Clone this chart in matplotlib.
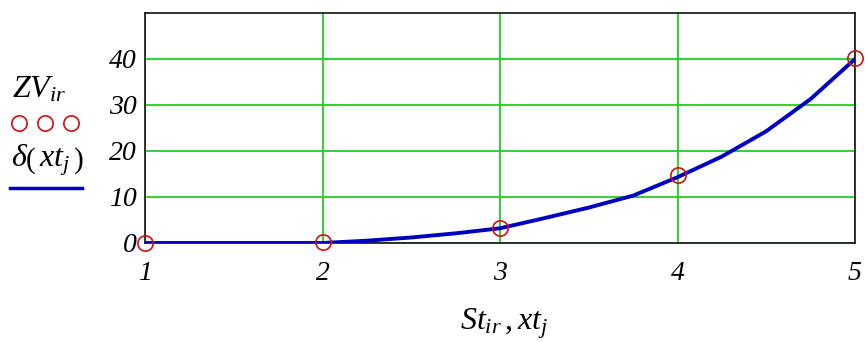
import matplotlib
matplotlib.use("Agg")
import matplotlib.pyplot as plt

plt.rcParams['mathtext.fontset'] = 'custom'
plt.rcParams['mathtext.rm'] = 'Liberation Serif'
plt.rcParams['mathtext.it'] = 'Liberation Serif:italic'
plt.rcParams['font.family'] = 'Liberation Serif'

# measured points ZV_ir at St_ir
st = [1, 2, 3, 4, 5]
zv = [0.0, 0.2, 3.2, 14.7, 40.3]

# fitted curve delta(xt_j)
xt = [1, 1.5, 2, 2.25, 2.5, 2.75, 3, 3.25, 3.5, 3.75, 4, 4.25, 4.5, 4.75, 5]
delta = [0, 0, 0, 0.5, 1.2, 2.1, 3.2, 5.4, 7.7, 10.3, 14.3, 18.8, 24.3, 31.3, 40.0]

xticks = [1, 2, 3, 4, 5]
yticks = [0, 10, 20, 30, 40]

fig = plt.figure(figsize=(8.65, 3.42), dpi=100)
ax = fig.add_axes([145 / 865, 1 - 243 / 342, 710 / 865, 230 / 342])

ax.plot(xt, delta, color='#0000c0', lw=2.8, zorder=3)
ax.plot(st, zv, 'o', mfc='none', mec='#d01010', ms=11, mew=1.2, zorder=4,
        clip_on=False)

ax.set_xlim(1, 5)
ax.set_ylim(0, 50)
ax.set_xticks(xticks)
ax.set_yticks(yticks)
ax.grid(True, color='#22cc22', lw=1.3)
ax.set_axisbelow(True)
ax.tick_params(length=0, labelsize=20)
ax.tick_params(axis='x', pad=13)
ax.tick_params(axis='y', pad=6)
for lab in ax.get_xticklabels() + ax.get_yticklabels():
    lab.set_fontstyle('italic')
for s in ax.spines.values():
    s.set_color('#222222')
    s.set_linewidth(1.3)

# y-axis legend-like labels on the left
fig.text(12 / 865, 1 - 90 / 342, r'$ZV_{ir}$', fontsize=23, va='center')
fig.add_artist(plt.Line2D([19 / 865, 45 / 865, 71 / 865], [1 - 123 / 342] * 3,
                          ls='none', marker='o', ms=11, mfc='none',
                          mec='#d01010', mew=1.2))
fig.text(11 / 865, 1 - 160 / 342, r'$\delta\left(\,xt_j\,\right)$', fontsize=23,
         va='center')
fig.add_artist(plt.Line2D([10 / 865, 82 / 865], [1 - 188 / 342] * 2,
                          color='#0000c0', lw=2.5))

fig.text(504 / 865, 1 - 324 / 342, r'$St_{ir}\,,xt_j$', fontsize=23,
         ha='center', va='center')

fig.savefig('out.png', dpi=100)
